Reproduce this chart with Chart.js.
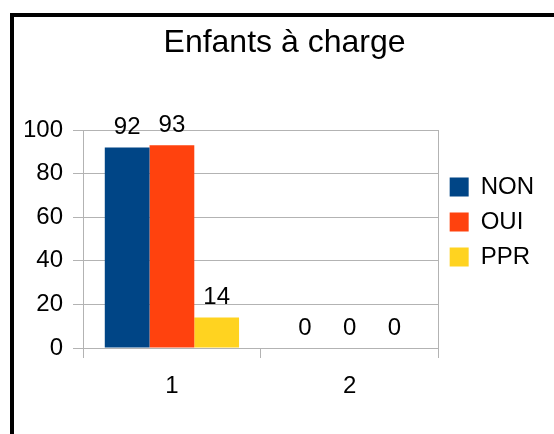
<!DOCTYPE html>
<html>
<head>
<meta charset="utf-8">
<script src="https://cdn.jsdelivr.net/npm/chart.js@4/dist/chart.umd.min.js"></script>
<style>
  html, body { margin: 0; padding: 0; background: #fff; }
  #frame {
    position: absolute; left: 10px; top: 13px; right: 0; bottom: 0;
    border-top: 4px solid #000; border-left: 4px solid #000;
  }
  #wrap { position: absolute; left: 0; top: 0; width: 554px; height: 434px; }
</style>
</head>
<body>
<div id="frame"></div>
<div id="wrap"><canvas id="myChart"></canvas></div>
<script>
const categories = ["1", "2"];
const seriesNames = ["NON", "OUI", "PPR"];
const nonValues = [92, 0];
const ouiValues = [93, 0];
const pprValues = [14, 0];
const seriesColors = ["#004586", "#ff420e", "#ffd320"];
const yMin = 0;
const yMax = 100;
const yStep = 20;

const gridGray = "#b3b3b3";
Chart.defaults.font.family = "'Liberation Sans', Arial, sans-serif";
Chart.defaults.color = "#000";

// value printed above each bar
const valueLabels = {
  id: "valueLabels",
  afterDatasetsDraw(chart) {
    const { ctx } = chart;
    ctx.save();
    ctx.font = "24px 'Liberation Sans', Arial, sans-serif";
    ctx.fillStyle = "#000";
    ctx.textAlign = "center";
    ctx.textBaseline = "alphabetic";
    chart.data.datasets.forEach((ds, i) => {
      chart.getDatasetMeta(i).data.forEach((bar, j) => {
        ctx.fillText(String(ds.data[j]), bar.x, bar.y - 13);
      });
    });
    ctx.restore();
  },
};

const ctx = document.getElementById("myChart");
new Chart(ctx, {
  type: "bar",
  data: {
    labels: categories,
    datasets: [
      { label: seriesNames[0], data: nonValues, backgroundColor: seriesColors[0] },
      { label: seriesNames[1], data: ouiValues, backgroundColor: seriesColors[1] },
      { label: seriesNames[2], data: pprValues, backgroundColor: seriesColors[2] },
    ],
  },
  plugins: [valueLabels],
  options: {
    responsive: true,
    maintainAspectRatio: false,
    animation: false,
    datasets: {
      bar: { categoryPercentage: 0.755, barPercentage: 1.0, borderWidth: 0 },
    },
    layout: {
      padding: { top: 10, left: 25, right: 10, bottom: 0 },
    },
    plugins: {
      title: {
        display: true,
        text: "Enfants à charge",
        color: "#000",
        font: { size: 32, weight: "normal", lineHeight: 1.2 },
        padding: { top: 14, bottom: 67.6 },
      },
      legend: {
        position: "right",
        labels: {
          boxWidth: 19,
          boxHeight: 19,
          padding: 11,
          color: "#000",
          font: { size: 24 },
        },
      },
      tooltip: { enabled: false },
    },
    scales: {
      x: {
        grid: {
          offset: true,
          color: (c) => (c.index === 1 ? "rgba(0,0,0,0)" : gridGray),
          tickColor: gridGray,
          tickLength: 10,
        },
        border: { display: true, color: gridGray },
        ticks: { font: { size: 24 }, color: "#000", padding: 14 },
        afterFit: (scale) => { scale.height = 86; },
      },
      y: {
        min: yMin,
        max: yMax,
        grid: { color: gridGray, tickColor: gridGray, tickLength: 10 },
        border: { display: true, color: gridGray },
        ticks: { stepSize: yStep, font: { size: 24 }, color: "#000", padding: 10 },
        afterFit: (scale) => { scale.width = 58; },
      },
    },
  },
});
</script>
</body>
</html>
